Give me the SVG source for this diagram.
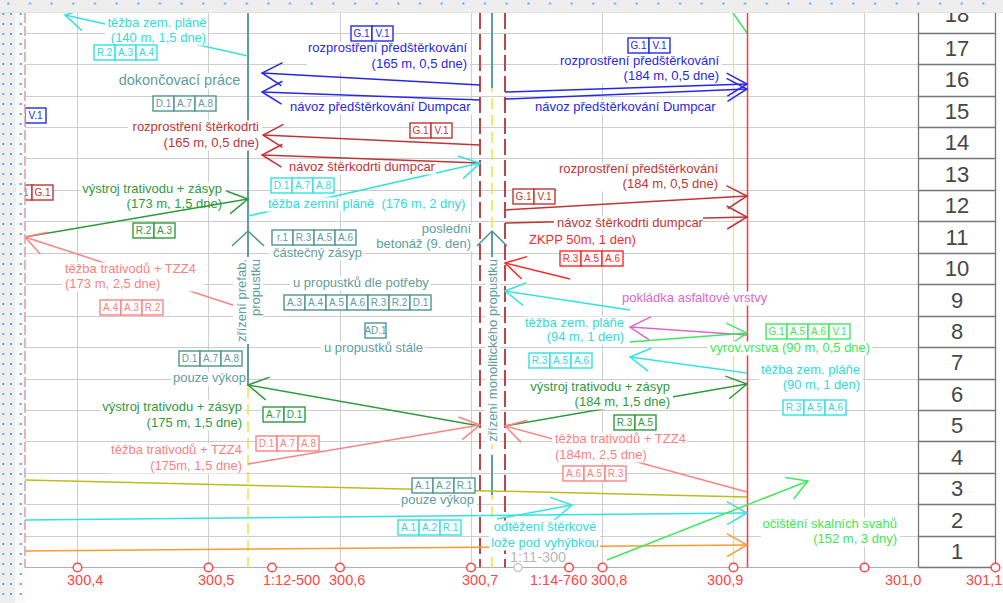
<svg xmlns="http://www.w3.org/2000/svg" width="1003" height="603" viewBox="0 0 1003 603">
<defs>
<style>
text{font-family:"Liberation Sans",Arial,Helvetica,sans-serif;font-size:13px}
.gr{stroke:#cdcdcd;stroke-width:1;fill:none}
.gc{stroke:#767676;stroke-width:1.3;fill:none}
.c{fill:none;stroke-width:1.5}
.bg{fill:#fff}
.bx rect{fill:#fff;stroke-width:1.4}
.bx text{font-size:10px;text-anchor:middle;stroke:none}
.end{text-anchor:end}
.mid{text-anchor:middle}
.kb{fill:#2727e8}.sb{stroke:#2727e8}
.kr{fill:#c13434}.sr{stroke:#c13434}
.kc{fill:#2fdcdc}.sc{stroke:#33e2e2}
.kt{fill:#5f9d9d}.st{stroke:#4f9494}
.kg{fill:#2f9a3c}.sg{stroke:#2f9a3c}
.ks{fill:#ff7f7f}.ss{stroke:#ff8282}
.kx{fill:#ff2828}.sx{stroke:#ff2828}
.kp{fill:#dd66cc}.sp{stroke:#dd66cc}
.kl{fill:#3ee852}.sl{stroke:#40e860}
.so{stroke:#ff9a30}
.sv{stroke:#bcbc1c}
.ax{font-size:14.5px;fill:#ff4545}
.axc{fill:#fff;stroke:#ff4545;stroke-width:1.5}
.rn{font-size:22px;fill:#474747;text-anchor:middle}
</style>
<marker id="m-b" markerUnits="userSpaceOnUse" markerWidth="26" markerHeight="26" refX="23" refY="13" orient="auto" overflow="visible"><path d="M3,1.5 L23,13 L3,24.5" fill="none" stroke="#2727e8" stroke-width="1.5"/></marker>
<marker id="m-r" markerUnits="userSpaceOnUse" markerWidth="26" markerHeight="26" refX="23" refY="13" orient="auto" overflow="visible"><path d="M3,1.5 L23,13 L3,24.5" fill="none" stroke="#c13434" stroke-width="1.5"/></marker>
<marker id="m-c" markerUnits="userSpaceOnUse" markerWidth="26" markerHeight="26" refX="23" refY="13" orient="auto" overflow="visible"><path d="M3,1.5 L23,13 L3,24.5" fill="none" stroke="#33e2e2" stroke-width="1.5"/></marker>
<marker id="m-g" markerUnits="userSpaceOnUse" markerWidth="26" markerHeight="26" refX="23" refY="13" orient="auto" overflow="visible"><path d="M3,1.5 L23,13 L3,24.5" fill="none" stroke="#2f9a3c" stroke-width="1.5"/></marker>
<marker id="m-s" markerUnits="userSpaceOnUse" markerWidth="26" markerHeight="26" refX="23" refY="13" orient="auto" overflow="visible"><path d="M3,1.5 L23,13 L3,24.5" fill="none" stroke="#ff8282" stroke-width="1.5"/></marker>
<marker id="m-x" markerUnits="userSpaceOnUse" markerWidth="26" markerHeight="26" refX="23" refY="13" orient="auto" overflow="visible"><path d="M3,1.5 L23,13 L3,24.5" fill="none" stroke="#ff2828" stroke-width="1.5"/></marker>
<marker id="m-p" markerUnits="userSpaceOnUse" markerWidth="26" markerHeight="26" refX="23" refY="13" orient="auto" overflow="visible"><path d="M3,1.5 L23,13 L3,24.5" fill="none" stroke="#dd66cc" stroke-width="1.5"/></marker>
<marker id="m-l" markerUnits="userSpaceOnUse" markerWidth="26" markerHeight="26" refX="23" refY="13" orient="auto" overflow="visible"><path d="M3,1.5 L23,13 L3,24.5" fill="none" stroke="#40e860" stroke-width="1.5"/></marker>
<marker id="m-o" markerUnits="userSpaceOnUse" markerWidth="26" markerHeight="26" refX="23" refY="13" orient="auto" overflow="visible"><path d="M3,1.5 L23,13 L3,24.5" fill="none" stroke="#ff9a30" stroke-width="1.5"/></marker>
<pattern id="dt" x="0" y="0" width="21.67" height="12" patternUnits="userSpaceOnUse"><rect x="7.3" y="2.5" width="2" height="2" fill="#5aa5e6"/></pattern>
<pattern id="dl" x="0" y="0" width="25" height="10" patternUnits="userSpaceOnUse"><rect x="2.3" y="3" width="2" height="2" fill="#5aa5e6"/><rect x="10" y="3" width="2" height="2" fill="#5aa5e6"/><rect x="19.7" y="3" width="2" height="2" fill="#5aa5e6"/></pattern>
</defs>

<rect width="1003" height="603" fill="#fff"/>

<g id="grid">
<path class="gr" d="M25,33.5H918M25,64.5H918M25,96.5H918M25,127.5H918M25,158.5H918M25,190.5H918M25,221.5H918M25,253.5H918M25,284.5H918M25,316.5H918M25,347.5H918M25,379.5H918M25,410.5H918M25,441.5H918M25,473.5H918M25,504.5H918M25,536.5H918"/>
<path class="gr" d="M77.5,13V567.5M208.5,13V567.5M340.5,13V567.5M471.5,13V567.5M602.5,13V567.5M864.5,13V567.5"/>
<path d="M25,567.5H918" stroke="#b0b0b0" stroke-width="1.2"/>
</g>

<g id="columns">
<path d="M248,13V567.5" stroke="#e6e640" stroke-width="1.5" stroke-dasharray="11,6"/>
<path d="M492,13V567.5" stroke="#e6e640" stroke-width="1.5" stroke-dasharray="11,6"/>
<path d="M480,13V567.5" stroke="#b84848" stroke-width="2" stroke-dasharray="16,5"/>
<path d="M505,13V567.5" stroke="#b84848" stroke-width="2" stroke-dasharray="16,5"/>
<path d="M733.5,13V567.5" stroke="#e8e85a" stroke-width="1.2"/>
<path d="M747.5,13V567.5" stroke="#ff3a3a" stroke-width="1.5"/>
<path d="M248,13V231M248,231V262M248,344V386" stroke="#5f9d9d" stroke-width="2"/>
<path d="M492,13V88M492,231V262M492,455V495" stroke="#5f9d9d" stroke-width="2"/>
</g>

<g id="connectors">
<path class="c sc" d="M248,56L65,15" marker-end="url(#m-c)"/>
<path class="c sb" d="M480,85L262,73" marker-end="url(#m-b)"/>
<path class="c sb" d="M480,100L262,92" marker-end="url(#m-b)"/>
<path class="c sr" d="M480,145L263,135" marker-end="url(#m-r)"/>
<path class="c sr" d="M480,163L262,155" marker-end="url(#m-r)"/>
<path class="c sc" d="M248,216L480,163" marker-end="url(#m-c)"/>
<path class="c sb" d="M505,92L747,84" marker-end="url(#m-b)"/>
<path class="c sb" d="M505,99L747,89" marker-end="url(#m-b)"/>
<path class="c sr" d="M505,210L747,196" marker-end="url(#m-r)"/>
<path class="c sr" d="M505,223L747,217" marker-end="url(#m-r)"/>
<path class="c sg" d="M25,237L248,199" marker-end="url(#m-g)"/>
<path class="c ss" d="M248,310L25,237" marker-end="url(#m-s)"/>
<path class="c sx" d="M570,279L505,263" marker-end="url(#m-x)"/>
<path class="c sc" d="M630,310L505,291" marker-end="url(#m-c)"/>
<path class="c sp" d="M747,335L630,327" marker-end="url(#m-p)"/>
<path class="c sl" d="M630,342L747,333" marker-end="url(#m-l)"/>
<path class="c sc" d="M747,373L630,357" marker-end="url(#m-c)"/>
<path class="c sg" d="M480,426L248,385" marker-end="url(#m-g)"/>
<path class="c ss" d="M248,464L480,425" marker-end="url(#m-s)"/>
<path class="c sg" d="M505,426L747,384" marker-end="url(#m-g)"/>
<path class="c ss" d="M747,492L505,426" marker-end="url(#m-s)"/>
<path class="c sv" d="M25,480L747,497"/>
<path class="c sc" d="M25,520L747,513" marker-end="url(#m-c)"/>
<path class="c sc" d="M497,519L572,505" marker-end="url(#m-c)"/>
<path class="c so" d="M25,551L747,545" marker-end="url(#m-o)"/>
<path class="c sl" d="M607,560L808,481" marker-end="url(#m-l)"/>
<path class="c sl" d="M733,13L747,33"/>
<path class="c st" d="M232,246L248,231L264,246"/>
<path class="c st" d="M477,246L492,231L507,246"/>
</g>

<g id="lbl-tl-cyan"><rect class="bg" x="105" y="16.5" width="103" height="29"/><text class="kc mid" x="157" y="27">těžba zem. pláně</text><text class="kc mid" x="158.5" y="42">(140 m, 1,5 dne)</text></g>
<g id="lbl-dokoncovaci"><rect class="bg" x="115" y="73" width="129" height="16"/><text class="kt mid" x="179.5" y="85" style="font-size:14.5px">dokončovací práce</text></g>
<g id="lbl-blue-l"><rect class="bg" x="307" y="41.5" width="163" height="30"/><text class="kb end" x="467" y="52">rozprostření předštěrkování</text><text class="kb end" x="467" y="68">(165 m, 0,5 dne)</text></g>
<g id="lbl-blue-l2"><rect class="bg" x="287" y="100.5" width="185" height="14"/><text class="kb" x="290" y="111">návoz předštěrkování Dumpcar</text></g>
<g id="lbl-blue-r"><rect class="bg" x="559" y="54.5" width="163" height="29"/><text class="kb end" x="719" y="65">rozprostření předštěrkování</text><text class="kb end" x="719" y="80">(184 m, 0,5 dne)</text></g>
<g id="lbl-blue-r2"><rect class="bg" x="532" y="100" width="184" height="14"/><text class="kb" x="535" y="110.5">návoz předštěrkování Dumpcar</text></g>
<g id="lbl-red-l"><rect class="bg" x="128" y="120.5" width="134" height="30"/><text class="kr end" x="259" y="131">rozprostření štěrkodrti</text><text class="kr end" x="259" y="147">(165 m, 0,5 dne)</text></g>
<g id="lbl-red-l2"><rect class="bg" x="286" y="162" width="150" height="12.5"/><text class="kr" x="289" y="171">návoz štěrkodrti dumpcar</text></g>
<g id="lbl-red-r"><rect class="bg" x="558" y="162.5" width="163" height="29"/><text class="kr end" x="718" y="173">rozprostření předštěrkování</text><text class="kr end" x="718" y="188">(184 m, 0,5 dne)</text></g>
<g id="lbl-red-r2"><rect class="bg" x="554" y="216.5" width="149" height="14"/><text class="kr" x="557" y="227">návoz štěrkodrti dumpcar</text></g>
<g id="lbl-cyan-zemni"><rect class="bg" x="265" y="197.5" width="200" height="14"/><text class="kc" x="268" y="208">těžba zemní pláně&#160; (176 m, 2 dny)</text></g>
<g id="lbl-green-tl"><rect class="bg" x="81" y="182.5" width="144" height="14"/><text class="kg end" x="222" y="193">výstroj trativodu + zásyp</text><text class="kg end" x="222" y="208">(173 m, 1,5 dne)</text></g>
<g id="lbl-salmon-tl"><rect class="bg" x="62" y="262.5" width="142" height="29"/><text class="ks" x="65" y="273">těžba trativodů + TZZ4</text><text class="ks" x="65" y="288">(173 m, 2,5 dne)</text></g>
<g id="lbl-prefab"><rect class="bg" x="233" y="257" width="30" height="87"/><text class="kt end" transform="translate(246,259) rotate(-90)">zřízení prefab.</text><text class="kt end" transform="translate(260,259) rotate(-90)">propustku</text></g>
<g id="lbl-monolit"><rect class="bg" x="485" y="257" width="15" height="187"/><text class="kt end" transform="translate(497,259) rotate(-90)">zřízení monolitického propustku</text></g>
<g id="lbl-castecny"><rect class="bg" x="270" y="246.5" width="93" height="14"/><text class="kt" x="273" y="257">částečný zásyp</text></g>
<g id="lbl-dlepotreby"><rect class="bg" x="290" y="276.5" width="140" height="14"/><text class="kt" x="293" y="287">u propustků dle potřeby</text></g>
<g id="lbl-stale"><rect class="bg" x="321" y="341.5" width="104" height="14"/><text class="kt" x="324" y="352">u propustků stále</text></g>
<g id="lbl-posledni"><rect class="bg" x="376" y="222.5" width="98" height="29"/><text class="kt end" x="471" y="233">poslední</text><text class="kt end" x="471" y="248">betonáž (9. den)</text></g>
<g id="lbl-zkpp"><rect class="bg" x="526" y="233.5" width="111" height="14"/><text class="kx" x="529" y="244">ZKPP 50m, 1 den)</text></g>
<g id="lbl-cyan-94"><rect class="bg" x="524" y="316.5" width="103" height="28"/><text class="kc end" x="624" y="327">těžba zem. pláňe</text><text class="kc end" x="624" y="341">(94 m, 1 den)</text></g>
<g id="lbl-pokladka"><rect class="bg" x="619" y="291.5" width="149" height="14"/><text class="kp" x="622" y="302">pokládka asfaltové vrstvy</text></g>
<g id="lbl-vyrov"><rect class="bg" x="707" y="341.5" width="165" height="14"/><text class="kl" x="710" y="352">vyrov.vrstva (90 m, 0,5 dne)</text></g>
<g id="lbl-cyan-90"><rect class="bg" x="759" y="363.5" width="104" height="29"/><text class="kc end" x="860" y="374">těžba zem. pláňe</text><text class="kc end" x="860" y="389">(90 m, 1 den)</text></g>
<g id="lbl-green-r"><rect class="bg" x="529" y="380.5" width="144" height="29"/><text class="kg end" x="670" y="391">výstroj trativodu + zásyp</text><text class="kg end" x="670" y="406">(184 m, 1,5 dne)</text></g>
<g id="lbl-vykop-l"><rect class="bg" x="171" y="371.5" width="76" height="14"/><text class="kt end" x="246" y="382">pouze výkop</text></g>
<g id="lbl-green-bl"><rect class="bg" x="101" y="400.5" width="144" height="30"/><text class="kg end" x="242" y="411">výstroj trativodu + zásyp</text><text class="kg end" x="242" y="427">(175 m, 1,5 dne)</text></g>
<g id="lbl-salmon-bl"><rect class="bg" x="110" y="443.5" width="135" height="30"/><text class="ks end" x="242" y="454">těžba trativodů + TZZ4</text><text class="ks end" x="242" y="470">(175m, 1,5 dne)</text></g>
<g id="lbl-salmon-r"><rect class="bg" x="552" y="432.5" width="135" height="30"/><text class="ks" x="555" y="443">těžba trativodů + TZZ4</text><text class="ks" x="555" y="459">(184m, 2,5 dne)</text></g>
<g id="lbl-vykop-r"><rect class="bg" x="400" y="493.5" width="77" height="14"/><text class="kt end" x="474" y="504">pouze výkop</text></g>
<g id="lbl-odtezeni"><rect class="bg" x="489" y="520.5" width="111" height="30"/><text class="kc mid" x="545" y="531">odtěžení štěrkové</text><text class="kc mid" x="545" y="547">lože pod vyhýbkou</text></g>
<g id="lbl-ocisteni"><rect class="bg" x="761" y="517.5" width="139" height="29"/><text class="kl end" x="897" y="528">očištění skalních svahů</text><text class="kl end" x="897" y="543">(152 m, 3 dny)</text></g>

<g id="boxes">
<g class="bx sc kc"><rect x="94" y="45" width="21" height="15"/><rect x="115" y="45" width="21" height="15"/><rect x="136" y="45" width="21" height="15"/><text x="104.5" y="56">R.2</text><text x="125.5" y="56">A.3</text><text x="146.5" y="56">A.4</text></g>
<g class="bx st kt"><rect x="153" y="96" width="21" height="15"/><rect x="174" y="96" width="21" height="15"/><rect x="195" y="96" width="21" height="15"/><text x="163.5" y="107">D.1</text><text x="184.5" y="107">A.7</text><text x="205.5" y="107">A.8</text></g>
<g class="bx sb kb"><rect x="25" y="108" width="21" height="15"/><text x="35.5" y="119">V.1</text></g>
<g class="bx sb kb"><rect x="351" y="26" width="21" height="15"/><rect x="372" y="26" width="21" height="15"/><text x="361.5" y="37">G.1</text><text x="382.5" y="37">V.1</text></g>
<g class="bx sb kb"><rect x="628" y="38" width="21" height="15"/><rect x="649" y="38" width="21" height="15"/><text x="638.5" y="49">G.1</text><text x="659.5" y="49">V.1</text></g>
<g class="bx sr kr"><rect x="410" y="123" width="21" height="15"/><rect x="431" y="123" width="21" height="15"/><text x="420.5" y="134">G.1</text><text x="441.5" y="134">V.1</text></g>
<g class="bx sr kr"><rect x="11" y="185" width="21" height="15"/><rect x="32" y="185" width="21" height="15"/><text x="21.5" y="196">V.1</text><text x="42.5" y="196">G.1</text></g>
<g class="bx sr kr"><rect x="513" y="189" width="21" height="15"/><rect x="534" y="189" width="21" height="15"/><text x="523.5" y="200">G.1</text><text x="544.5" y="200">V.1</text></g>
<g class="bx sc kc"><rect x="271" y="178" width="21" height="15"/><rect x="292" y="178" width="21" height="15"/><rect x="313" y="178" width="21" height="15"/><text x="281.5" y="189">D.1</text><text x="302.5" y="189">A.7</text><text x="323.5" y="189">A.8</text></g>
<g class="bx sg kg"><rect x="133" y="223" width="21" height="15"/><rect x="154" y="223" width="21" height="15"/><text x="143.5" y="234">R.2</text><text x="164.5" y="234">A.3</text></g>
<g class="bx st kt"><rect x="272" y="230" width="21" height="15"/><rect x="293" y="230" width="21" height="15"/><rect x="314" y="230" width="21" height="15"/><rect x="335" y="230" width="21" height="15"/><text x="282.5" y="241">r.1</text><text x="303.5" y="241">R.3</text><text x="324.5" y="241">A.5</text><text x="345.5" y="241">A.6</text></g>
<g class="bx ss ks"><rect x="100" y="300" width="21" height="15"/><rect x="121" y="300" width="21" height="15"/><rect x="142" y="300" width="21" height="15"/><text x="110.5" y="311">A.4</text><text x="131.5" y="311">A.3</text><text x="152.5" y="311">R.2</text></g>
<g class="bx sx kx"><rect x="560" y="251" width="21" height="15"/><rect x="581" y="251" width="21" height="15"/><rect x="602" y="251" width="21" height="15"/><text x="570.5" y="262">R.3</text><text x="591.5" y="262">A.5</text><text x="612.5" y="262">A.6</text></g>
<g class="bx st kt"><rect x="284" y="295" width="21" height="15"/><rect x="305" y="295" width="21" height="15"/><rect x="326" y="295" width="21" height="15"/><rect x="347" y="295" width="21" height="15"/><rect x="368" y="295" width="21" height="15"/><rect x="389" y="295" width="21" height="15"/><rect x="410" y="295" width="21" height="15"/><text x="294.5" y="306">A.3</text><text x="315.5" y="306">A.4</text><text x="336.5" y="306">A.5</text><text x="357.5" y="306">A.6</text><text x="378.5" y="306">R.3</text><text x="399.5" y="306">R.2</text><text x="420.5" y="306">D.1</text></g>
<g class="bx st kt"><rect x="365" y="323" width="21" height="15"/><text x="375.5" y="334">AD.1</text></g>
<g class="bx sl kl"><rect x="766" y="324" width="21" height="15"/><rect x="787" y="324" width="21" height="15"/><rect x="808" y="324" width="21" height="15"/><rect x="829" y="324" width="21" height="15"/><text x="776.5" y="335">G.1</text><text x="797.5" y="335">A.5</text><text x="818.5" y="335">A.6</text><text x="839.5" y="335">V.1</text></g>
<g class="bx sc kc"><rect x="529" y="353" width="21" height="15"/><rect x="550" y="353" width="21" height="15"/><rect x="571" y="353" width="21" height="15"/><text x="539.5" y="364">R.3</text><text x="560.5" y="364">A.5</text><text x="581.5" y="364">A.6</text></g>
<g class="bx st kt"><rect x="179" y="351" width="21" height="15"/><rect x="200" y="351" width="21" height="15"/><rect x="221" y="351" width="21" height="15"/><text x="189.5" y="362">D.1</text><text x="210.5" y="362">A.7</text><text x="231.5" y="362">A.8</text></g>
<g class="bx sc kc"><rect x="783" y="400" width="21" height="15"/><rect x="804" y="400" width="21" height="15"/><rect x="825" y="400" width="21" height="15"/><text x="793.5" y="411">R.3</text><text x="814.5" y="411">A.5</text><text x="835.5" y="411">A.6</text></g>
<g class="bx sg kg"><rect x="263" y="407" width="21" height="15"/><rect x="284" y="407" width="21" height="15"/><text x="273.5" y="418">A.7</text><text x="294.5" y="418">D.1</text></g>
<g class="bx sg kg"><rect x="614" y="415" width="21" height="15"/><rect x="635" y="415" width="21" height="15"/><text x="624.5" y="426">R.3</text><text x="645.5" y="426">A.5</text></g>
<g class="bx ss ks"><rect x="256" y="436" width="21" height="15"/><rect x="277" y="436" width="21" height="15"/><rect x="298" y="436" width="21" height="15"/><text x="266.5" y="447">D.1</text><text x="287.5" y="447">A.7</text><text x="308.5" y="447">A.8</text></g>
<g class="bx ss ks"><rect x="563" y="466" width="21" height="15"/><rect x="584" y="466" width="21" height="15"/><rect x="605" y="466" width="21" height="15"/><text x="573.5" y="477">A.6</text><text x="594.5" y="477">A.5</text><text x="615.5" y="477">R.3</text></g>
<g class="bx st kt"><rect x="412" y="478" width="21" height="15"/><rect x="433" y="478" width="21" height="15"/><rect x="454" y="478" width="21" height="15"/><text x="422.5" y="489">A.1</text><text x="443.5" y="489">A.2</text><text x="464.5" y="489">R.1</text></g>
<g class="bx sc kc"><rect x="398" y="520" width="21" height="15"/><rect x="419" y="520" width="21" height="15"/><rect x="440" y="520" width="21" height="15"/><text x="408.5" y="531">A.1</text><text x="429.5" y="531">A.2</text><text x="450.5" y="531">R.1</text></g>
</g>

<g id="row-numbers">
<rect x="918.5" y="13" width="77" height="554.5" fill="#fff"/>
<path class="gc" d="M918.5,33.5H995.5M918.5,64.5H995.5M918.5,96.5H995.5M918.5,127.5H995.5M918.5,158.5H995.5M918.5,190.5H995.5M918.5,221.5H995.5M918.5,253.5H995.5M918.5,284.5H995.5M918.5,316.5H995.5M918.5,347.5H995.5M918.5,379.5H995.5M918.5,410.5H995.5M918.5,441.5H995.5M918.5,473.5H995.5M918.5,504.5H995.5M918.5,536.5H995.5M918.5,567.5H995.5M918.5,13V567.5M995.5,13V567.5"/>
<text class="rn" x="957" y="22">18</text>
<text class="rn" x="957" y="55.5">17</text>
<text class="rn" x="957" y="87">16</text>
<text class="rn" x="957" y="118.5">15</text>
<text class="rn" x="957" y="150">14</text>
<text class="rn" x="957" y="181.5">13</text>
<text class="rn" x="957" y="213">12</text>
<text class="rn" x="957" y="244.5">11</text>
<text class="rn" x="957" y="276">10</text>
<text class="rn" x="957" y="307.5">9</text>
<text class="rn" x="957" y="338.9">8</text>
<text class="rn" x="957" y="370.3">7</text>
<text class="rn" x="957" y="401.8">6</text>
<text class="rn" x="957" y="433.2">5</text>
<text class="rn" x="957" y="464.7">4</text>
<text class="rn" x="957" y="496.1">3</text>
<text class="rn" x="957" y="527.5">2</text>
<text class="rn" x="957" y="559">1</text>
</g>

<g id="axis">
<circle class="axc" cx="77.5" cy="567.5" r="4.3"/>
<circle class="axc" cx="208.5" cy="567.5" r="4.3"/>
<circle class="axc" cx="272" cy="567.5" r="4.3"/>
<circle class="axc" cx="340" cy="567.5" r="4.3"/>
<circle class="axc" cx="471" cy="567.5" r="4.3"/>
<circle cx="518" cy="567.5" r="4" fill="#fff" stroke="#c4c4c4" stroke-width="1.5"/>
<circle class="axc" cx="569" cy="567.5" r="4.3"/>
<circle class="axc" cx="602.5" cy="567.5" r="4.3"/>
<circle class="axc" cx="733.5" cy="567.5" r="4.3"/>
<circle class="axc" cx="864.5" cy="567.5" r="4.3"/>
<circle class="axc" cx="995.5" cy="567.5" r="4.3"/>
<text class="ax" x="67" y="585">300,4</text>
<text class="ax" x="198" y="585">300,5</text>
<text class="ax" x="263" y="585">1:12-500</text>
<text class="ax" x="329" y="585">300,6</text>
<text class="ax" x="462" y="585">300,7</text>
<text class="ax" x="530" y="585">1:14-760</text>
<text class="ax" x="591" y="585">300,8</text>
<text class="ax" x="707" y="585">300,9</text>
<text class="ax" x="885" y="585">301,0</text>
<text class="ax" x="966" y="585">301,1</text>
<text x="510" y="562" style="font-size:14.5px;fill:#b8b8b8">1:11-300</text>
</g>

<g id="frame">
<rect x="0" y="0" width="15.5" height="603" fill="#eeeeee"/>
<rect x="15.5" y="12" width="9.5" height="591" fill="#fafafa"/>
<rect x="0" y="0" width="25" height="603" fill="url(#dl)"/>
<rect x="0" y="0" width="1003" height="12" fill="#eeeeee"/>
<rect x="0" y="0" width="1003" height="12" fill="url(#dt)"/>
<path d="M0,12.5H1003" stroke="#e2e2e2" stroke-width="1"/>
<path d="M25,13V567.5" stroke="#d8a0a0" stroke-width="1.5" stroke-dasharray="10,3"/>
</g>
</svg>
